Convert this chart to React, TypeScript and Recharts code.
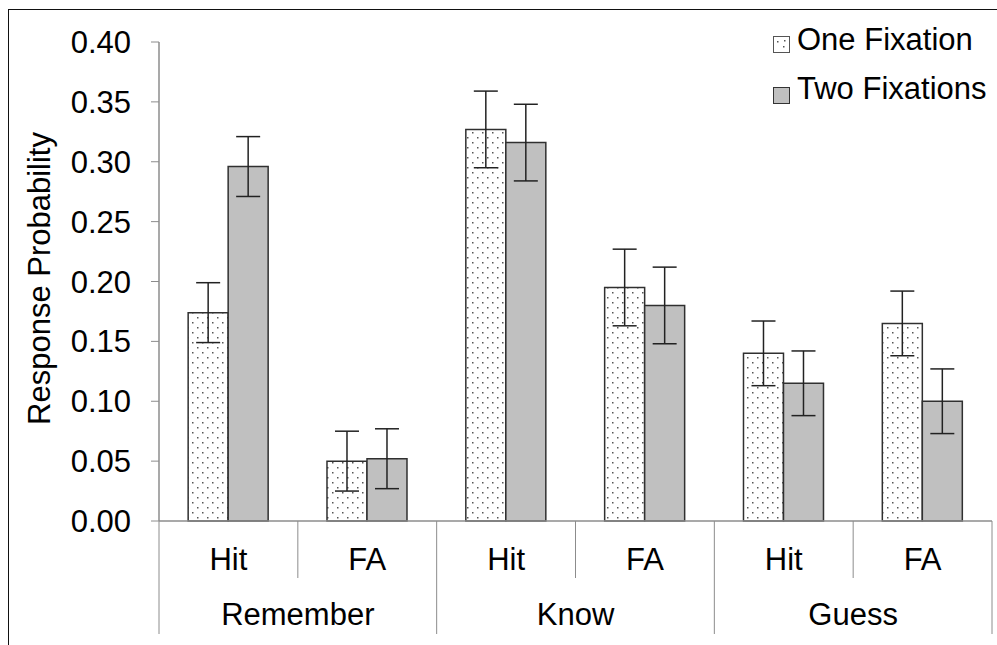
import { BarChart, Bar, XAxis, YAxis, ErrorBar, Legend } from "recharts";

const categories = ["Hit", "FA", "Hit", "FA", "Hit", "FA"];
const groups = ["Remember", "Remember", "Know", "Know", "Guess", "Guess"];
const oneFixation = [0.174, 0.05, 0.327, 0.195, 0.14, 0.165];
const twoFixations = [0.296, 0.052, 0.316, 0.18, 0.115, 0.1];
const oneFixationErr = [0.025, 0.025, 0.032, 0.032, 0.027, 0.027];
const twoFixationsErr = [0.025, 0.025, 0.032, 0.032, 0.027, 0.027];
const yTicks = [0, 0.05, 0.1, 0.15, 0.2, 0.25, 0.3, 0.35, 0.4];
const seriesNames = ["One Fixation", "Two Fixations"];

const data = categories.map((c, i) => ({
  id: String(i),
  cond: c,
  group: groups[i],
  one: oneFixation[i],
  two: twoFixations[i],
  oneErr: oneFixationErr[i],
  twoErr: twoFixationsErr[i],
}));

const W = 997;
const H = 645;
const FONT = "'Liberation Sans', Arial, sans-serif";
const FS = 31;
const margin = { top: 42, right: 5, bottom: 0, left: 0 };
const Y_AXIS_W = 159;
const bandW = (W - margin.left - margin.right - Y_AXIS_W) / categories.length;
const GRAY_LINE = "#8c8c8c";
const OUTLINE = "#303030";

const XTick = (props: any) => {
  const { x, y, index } = props;
  const left = x - bandW / 2;
  const right = x + bandW / 2;
  const isGroupStart = index % 2 === 0;
  return (
    <g>
      <line x1={left} y1={y} x2={left} y2={y + (isGroupStart ? 113 : 57)} stroke={GRAY_LINE} strokeWidth={1} />
      {index === categories.length - 1 && (
        <line x1={right} y1={y} x2={right} y2={y + 113} stroke={GRAY_LINE} strokeWidth={1} />
      )}
      <text x={x} y={y + 38} textAnchor="middle" dominantBaseline="central" fontSize={FS} fontFamily={FONT} fill="#000">
        {categories[index]}
      </text>
      {!isGroupStart && (
        <text x={left} y={y + 93} textAnchor="middle" dominantBaseline="central" fontSize={FS} fontFamily={FONT} fill="#000">
          {groups[index]}
        </text>
      )}
    </g>
  );
};

const DotSwatch = () => (
  <svg width={17} height={17} style={{ display: "block" }}>
    <rect x={0.5} y={0.5} width={16} height={16} fill="#fff" stroke="#555" strokeWidth={1} />
    <rect x={4} y={5} width={1.5} height={1.5} fill="#555" />
    <rect x={10} y={10} width={1.5} height={1.5} fill="#555" />
    <rect x={11} y={4} width={1.5} height={1.5} fill="#555" />
  </svg>
);

const GraySwatch = () => (
  <svg width={17} height={17} style={{ display: "block" }}>
    <rect x={0.5} y={0.5} width={16} height={16} fill="#c0c0c0" stroke="#333" strokeWidth={1} />
  </svg>
);

const LegendBox = () => (
  <div style={{ position: "relative", width: 224, height: 110, fontFamily: FONT, fontSize: FS, color: "#000" }}>
    <div style={{ position: "absolute", left: 0, top: 36 }}>
      <DotSwatch />
    </div>
    <div style={{ position: "absolute", left: 24, top: 21, lineHeight: "38px", whiteSpace: "nowrap" }}>{seriesNames[0]}</div>
    <div style={{ position: "absolute", left: 0, top: 87 }}>
      <GraySwatch />
    </div>
    <div style={{ position: "absolute", left: 24, top: 70, lineHeight: "38px", whiteSpace: "nowrap" }}>{seriesNames[1]}</div>
  </div>
);

const YLabel = (props: any) => {
  const vb = props.viewBox || { y: 42, height: 479 };
  const cy = vb.y + vb.height / 2 - 3;
  return (
    <text x={39} y={cy} transform={`rotate(-90, 39, ${cy})`} textAnchor="middle" dominantBaseline="central" fontSize={FS} fontFamily={FONT} fill="#000">
      Response Probability
    </text>
  );
};

export default function App() {
  return (
    <div style={{ position: "absolute", left: 0, top: 0, width: W, height: H, background: "#fff", fontFamily: FONT, overflow: "hidden" }}>
      <div style={{ position: "absolute", left: 8, top: 9, width: W + 20, height: H + 20, borderTop: "1px solid #111", borderLeft: "1px solid #111", boxSizing: "border-box" }} />
      <BarChart width={W} height={H} data={data} margin={margin} barCategoryGap="21%" barGap={0}>
        <defs>
          <pattern id="dots" x={0} y={0} width={10} height={10} patternUnits="userSpaceOnUse">
            <rect x={0} y={0} width={10} height={10} fill="#fff" />
            <rect x={2} y={2} width={1.5} height={1.5} fill="#555" />
            <rect x={7} y={7} width={1.5} height={1.5} fill="#555" />
          </pattern>
        </defs>
        <XAxis
          dataKey="id"
          height={124}
          tick={<XTick />}
          tickLine={false}
          tickSize={0}
          tickMargin={0}
          interval={0}
          axisLine={{ stroke: GRAY_LINE, strokeWidth: 1.5 }}
        />
        <YAxis
          width={Y_AXIS_W}
          domain={[0, 0.4]}
          ticks={yTicks}
          interval={0}
          tickFormatter={(v: number) => v.toFixed(2)}
          tick={{ fill: "#000", fontSize: FS, fontFamily: FONT }}
          tickSize={8}
          tickMargin={20}
          tickLine={{ stroke: GRAY_LINE }}
          axisLine={{ stroke: GRAY_LINE, strokeWidth: 1.5 }}
          label={<YLabel />}
        />
        <Legend
          layout="vertical"
          align="center"
          verticalAlign="middle"
          content={<LegendBox />}
          wrapperStyle={{ left: 773, top: 0, width: 224 }}
        />
        <Bar dataKey="one" name={seriesNames[0]} fill="url(#dots)" stroke={OUTLINE} strokeWidth={1.5} isAnimationActive={false}>
          <ErrorBar dataKey="oneErr" width={12} stroke="#222" strokeWidth={1.5} direction="y" />
        </Bar>
        <Bar dataKey="two" name={seriesNames[1]} fill="#c0c0c0" stroke={OUTLINE} strokeWidth={1.5} isAnimationActive={false}>
          <ErrorBar dataKey="twoErr" width={12} stroke="#222" strokeWidth={1.5} direction="y" />
        </Bar>
      </BarChart>
    </div>
  );
}
